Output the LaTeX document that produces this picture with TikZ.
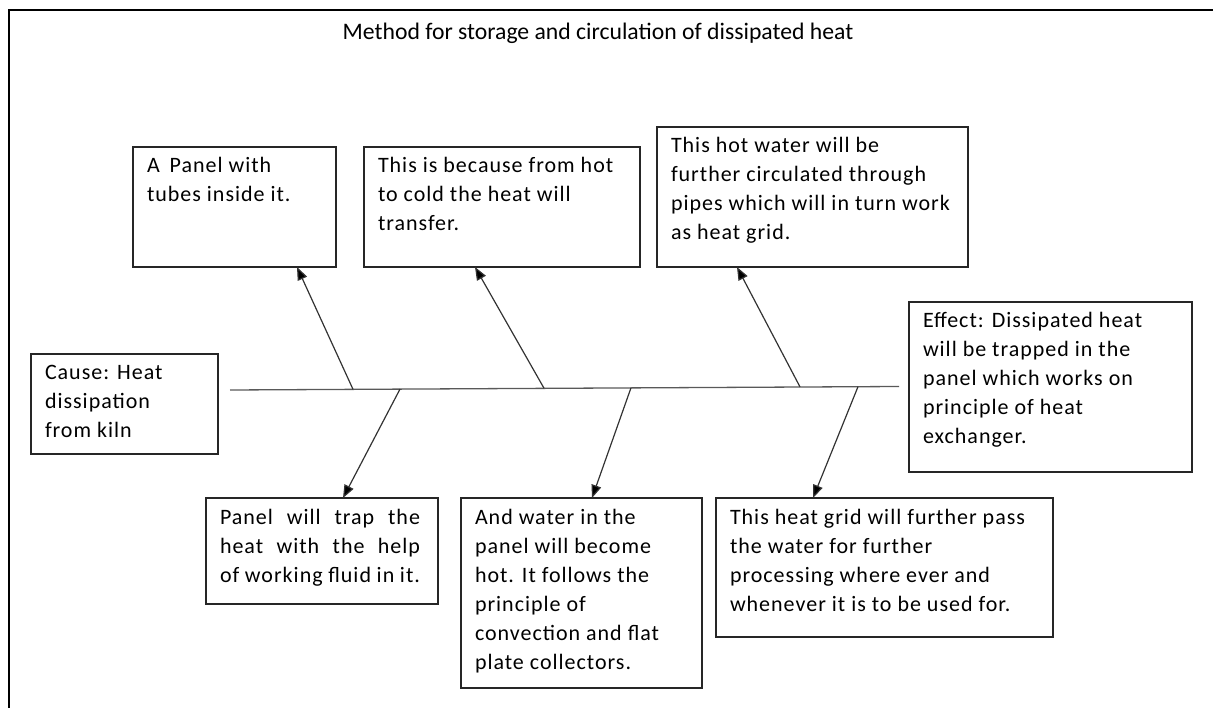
\documentclass[tikz,border=0pt]{standalone}
\usepackage{fontspec}
\setmainfont{Carlito}
\newfontfamily\boxfont[LetterSpace=4.5]{Carlito}
\usetikzlibrary{arrows.meta,calc,shadows}
\newcommand\boxtext[3]{\parbox[t][#2][t]{#1}{\raggedright\boxfont\fontsize{22}{29}\selectfont\rule{0pt}{26pt}#3}}
\tikzset{
  tbox/.style={draw=black!85, line width=1.2pt, fill=white, anchor=north west,
    inner xsep=14pt, inner ysep=0pt, outer sep=0pt,
    drop shadow={shadow xshift=1.3pt, shadow yshift=-1.3pt, fill=black!45, opacity=0.6}},
  spine/.style={draw=black!65, line width=1.3pt},
  arr/.style={draw=black!80, line width=1.2pt, -{Triangle[length=13pt,width=10pt,fill=black]}},
  frame/.style={draw=black, line width=2pt}
}
\begin{document}
\begin{tikzpicture}[x=1pt,y=-1pt]
\useasboundingbox (0,0) rectangle (1213,708);
% outer frame (only top and left edges lie inside the picture)
\coordinate (fa) at (9,720);
\coordinate (fb) at (9,10);
\coordinate (fc) at (1225,10);
\draw[frame] (fa) -- (fb) -- (fc);
% title
\node[font=\fontsize{23.7}{26}\selectfont, anchor=base] (title) at (598,40) {Method for storage and circulation of dissipated heat};
% boxes (width = box width - 28)
\node[tbox] (b1) at (133,147) {\boxtext{175pt}{120pt}{A\hspace{0.45em}Panel with\\ tubes inside it.}};
\node[tbox] (b2) at (364,147) {\boxtext{248pt}{120pt}{This is because from hot\\ to cold the heat will\\ transfer.}};
\node[tbox] (b3) at (657,127) {\boxtext{283pt}{140pt}{This hot water will be\\ further circulated through\\ pipes which will in turn work\\ as heat grid.}};
\node[tbox] (eff) at (909,302) {\boxtext{255pt}{170pt}{Effect: Dissipated heat\\ will be trapped in the\\ panel which works on\\ principle of heat\\ exchanger.}};
\node[tbox] (cause) at (31,354) {\boxtext{159pt}{100pt}{Cause: Heat\\ dissipation\\ from kiln}};
\node[tbox] (d1) at (206,498) {\boxtext{204pt}{106pt}{\makebox[200pt][s]{Panel will trap the}\\ \makebox[200pt][s]{heat with the help}\\ \makebox[200pt][s]{of working fluid in it.}}};
\node[tbox] (d2) at (461,498) {\boxtext{213pt}{190pt}{And water in the\\ panel will become\\ hot. It follows the\\ principle of\\ convection and flat\\ plate collectors.}};
\node[tbox] (d3) at (716,498) {\boxtext{309pt}{139pt}{This heat grid will further pass\\ the water for further\\ processing where ever and\\ whenever it is to be used for.}};
% spine
\coordinate (sL) at (230,390);
\coordinate (sR) at (899,386.5);
\draw[spine] (sL) -- (sR);
% branch points on the spine
\coordinate (u1) at (353,389.3);
\coordinate (u2) at (544,388.2);
\coordinate (u3) at (800,386.9);
\coordinate (v1) at (400,389.1);
\coordinate (v2) at (631,387.8);
\coordinate (v3) at (858,386.7);
% arrows
\draw[arr] (u1) -- ($(b1.south west)+(164,0)$);
\draw[arr] (u2) -- ($(b2.south west)+(111,0)$);
\draw[arr] (u3) -- ($(b3.south west)+(80,0)$);
\draw[arr] (v1) -- ($(d1.north west)+(137,0)$);
\draw[arr] (v2) -- ($(d2.north west)+(131,0)$);
\draw[arr] (v3) -- ($(d3.north west)+(97,0)$);
\end{tikzpicture}
\end{document}
